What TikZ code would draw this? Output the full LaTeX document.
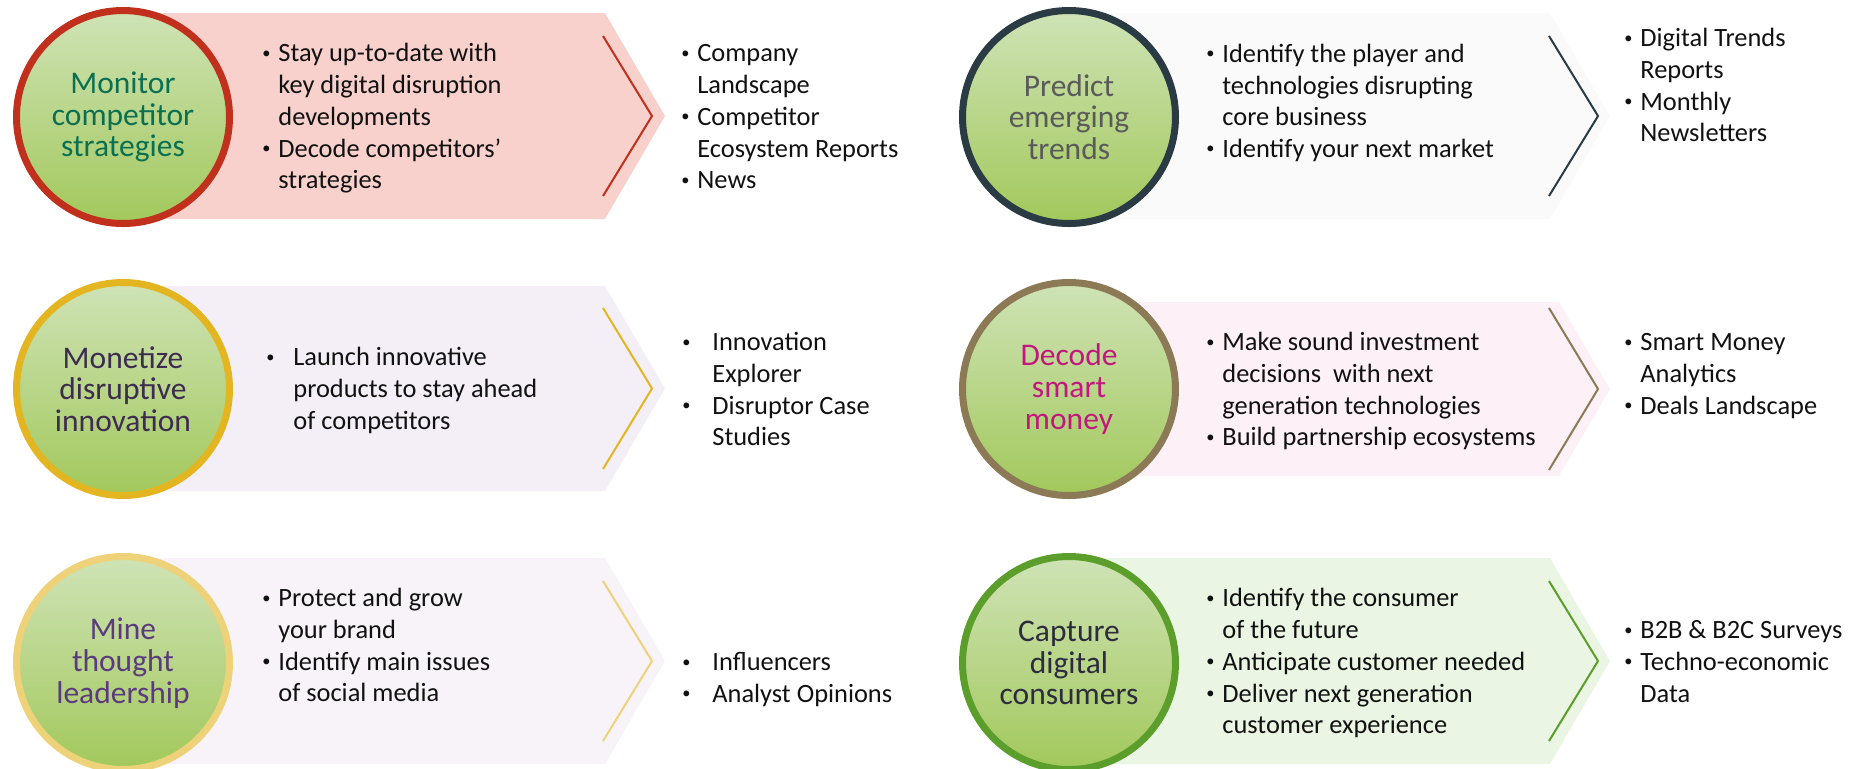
\documentclass[tikz,border=0pt]{standalone}
\usepackage{fontspec}
\setmainfont{Carlito}
\usepackage{tikz}
\usetikzlibrary{shapes.geometric,positioning}
\definecolor{ctop}{HTML}{CFE3B6}
\definecolor{cbot}{HTML}{A2C85B}
\definecolor{ctext}{HTML}{111111}
% borders
\definecolor{bred}{HTML}{C0301C}
\definecolor{bslate}{HTML}{2A3B44}
\definecolor{bgold}{HTML}{E3B521}
\definecolor{bolive}{HTML}{8B7A55}
\definecolor{blgold}{HTML}{EED27A}
\definecolor{bgreen}{HTML}{5B9E2B}
% bands
\definecolor{fred}{HTML}{F8D1CC}
\definecolor{fgray}{HTML}{FAFAFA}
\definecolor{flav}{HTML}{F4EFF7}
\definecolor{fpink}{HTML}{FDF1F7}
\definecolor{flav2}{HTML}{F7F3F9}
\definecolor{fgreen}{HTML}{EAF6E3}
% circle texts
\definecolor{tteal}{HTML}{0B7052}
\definecolor{tgray}{HTML}{5A5A5A}
\definecolor{tplum}{HTML}{3D2B50}
\definecolor{tmag}{HTML}{C2187E}
\definecolor{tpurp}{HTML}{5B3B7E}
\definecolor{tdark}{HTML}{2D2C3E}
\newcommand{\bl}{\raisebox{0.13em}{\scalebox{0.62}{\textbullet}}}
\newcommand{\blist}[2][8pt]{\begin{tabular}{@{}p{#1}@{}l@{}}#2\end{tabular}}

\begin{document}
\begin{tikzpicture}[x=0.5pt,y=-0.5pt,
  goal/.style={circle,draw,line width=3.5pt,minimum size=106.5pt,inner sep=0pt,top color=ctop,bottom color=cbot,align=center,font=\fontsize{15.75}{15.85}\selectfont},
  txt/.style={anchor=west,inner sep=0pt,yshift=-1.5pt,font=\fontsize{13.2}{15.85}\selectfont,text=ctext},
  bar/.style={line width=1pt}]
  \useasboundingbox (0,0) rectangle (1860,768);

  % chevron bands
  \fill[fred] (123,13) -- (605,13) -- (665,116) -- (605,219) -- (123,219) -- cycle;
  \fill[flav] (123,286) -- (605,286) -- (665,388.5) -- (605,491) -- (123,491) -- cycle;
  \fill[flav2] (123,558) -- (605,558) -- (665,661) -- (605,764) -- (123,764) -- cycle;
  \fill[fgray] (1069,13) -- (1550,13) -- (1610,116) -- (1550,219) -- (1069,219) -- cycle;
  \fill[fpink] (1069,302) -- (1559,302) -- (1610,389) -- (1559,476) -- (1069,476) -- cycle;
  \fill[fgreen] (1069,558) -- (1550,558) -- (1610,661) -- (1550,764) -- (1069,764) -- cycle;

  % inner chevron strokes
  \draw[bar,bred] (603,36) -- (652,116) -- (603,196);
  \draw[bar,bgold] (603,308) -- (652,388.5) -- (603,469);
  \draw[bar,blgold] (603,581) -- (652,661) -- (603,741);
  \draw[bar,bslate] (1549,36) -- (1598,116) -- (1549,196);
  \draw[bar,bolive] (1549,308) -- (1598,389) -- (1549,470);
  \draw[bar,bgreen] (1549,581) -- (1598,661) -- (1549,741);

  % goals
  \node[goal,draw=bred,text=tteal] (mcs) at (123,117) {Monitor\\competitor\\strategies};
  \node[goal,draw=bgold,text=tplum] (mdi) at (123,389) {Monetize\\disruptive\\innovation};
  \node[goal,draw=blgold,text=tpurp] (mtl) at (123,663) {Mine\\thought\\leadership};
  \node[goal,draw=bslate,text=tgray] (pet) at (1069,117) {Predict\\emerging\\trends};
  \node[goal,draw=bolive,text=tmag] (dsm) at (1069,389) {Decode\\smart\\money};
  \node[goal,draw=bgreen,text=tdark] (cdc) at (1069,663) {Capture\\digital\\consumers};

  % left column texts
  \node[txt] (mcsa) at (262,116) {\blist{\bl & Stay up-to-date with\\ & key digital disruption\\ & developments\\ \bl & Decode competitors’\\ & strategies}};
  \node[txt] (mcsb) at (681,116) {\blist{\bl & Company\\ & Landscape\\ \bl & Competitor\\ & Ecosystem Reports\\ \bl & News}};
  \node[txt] (mdia) at (266,388) {\blist[13.5pt]{\bl & Launch innovative\\ & products to stay ahead\\ & of competitors}};
  \node[txt] (mdib) at (682,389) {\blist[15pt]{\bl & Innovation\\ & Explorer\\ \bl & Disruptor Case\\ & Studies}};
  \node[txt] (mtla) at (262,645) {\blist{\bl & Protect and grow\\ & your brand\\ \bl & Identify main issues\\ & of social media}};
  \node[txt] (mtlb) at (682,677) {\blist[15pt]{\bl & Influencers\\ \bl & Analyst Opinions}};

  % right column texts
  \node[txt] (peta) at (1206,100.5) {\blist{\bl & Identify the player and\\ & technologies disrupting\\ & core business\\ \bl & Identify your next market}};
  \node[txt] (petb) at (1624,85) {\blist{\bl & Digital Trends\\ & Reports\\ \bl & Monthly\\ & Newsletters}};
  \node[txt] (dsma) at (1206,389) {\blist{\bl & Make sound investment\\ & decisions~ with next\\ & generation technologies\\ \bl & Build partnership ecosystems}};
  \node[txt] (dsmb) at (1624,373) {\blist{\bl & Smart Money\\ & Analytics\\ \bl & Deals Landscape}};
  \node[txt] (cdca) at (1206,661) {\blist{\bl & Identify the consumer\\ & of the future\\ \bl & Anticipate customer needed\\ \bl & Deliver next generation\\ & customer experience}};
  \node[txt] (cdcb) at (1624,661) {\blist{\bl & B2B \& B2C Surveys\\ \bl & Techno-economic\\ & Data}};
\end{tikzpicture}
\end{document}
